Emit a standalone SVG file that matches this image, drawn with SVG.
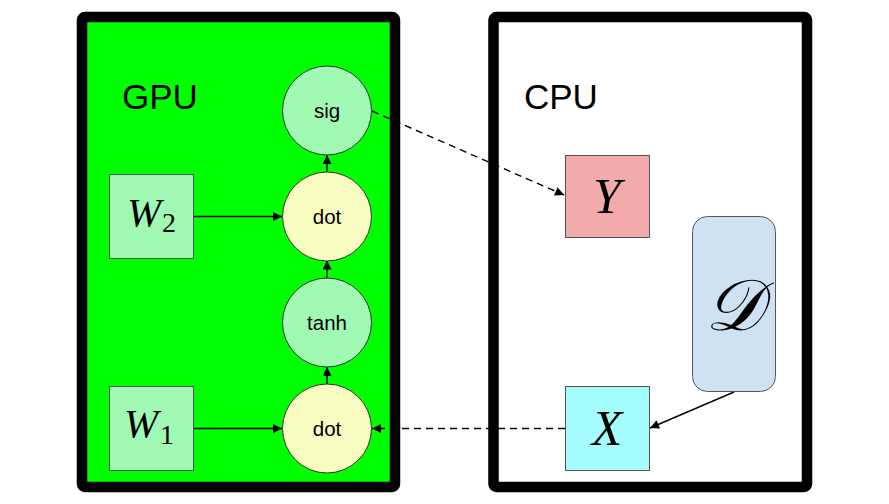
<svg xmlns="http://www.w3.org/2000/svg" width="889" height="504" viewBox="0 0 889 504">
<defs>
<style>
.frame{stroke:#000;stroke-width:10.5}
.box{stroke:#555;stroke-width:1}
.circ{stroke:#333;stroke-width:1}
.lbl{font-family:"Liberation Sans",Arial,sans-serif;font-size:20.5px;fill:#000;text-anchor:middle}
.title{font-family:"Liberation Sans",Arial,sans-serif;font-size:35px;fill:#000}
.math{font-family:"Liberation Serif","Times New Roman",serif;font-style:italic;fill:#000}
.sub{font-family:"Liberation Serif","Times New Roman",serif;font-style:normal;fill:#000}
.edge{stroke:#000;stroke-width:1.4;fill:none}
.dash{stroke-dasharray:7 5}
</style>
<marker id="ah" viewBox="0 0 10 10" refX="10" refY="5" markerWidth="10" markerHeight="9" markerUnits="userSpaceOnUse" orient="auto">
<path d="M0,0 L10,5 L0,10 z" fill="#000"/>
</marker>
</defs>
<rect width="889" height="504" fill="#fff"/>
<g id="gpu">
<rect class="frame" x="82" y="17" width="313" height="470" rx="3" fill="#00ff00"/>
<text class="title" x="122" y="109">GPU</text>
</g>
<g id="cpu">
<rect class="frame" x="493.5" y="17" width="313.5" height="470" rx="3" fill="#fff"/>
<text class="title" x="524" y="109">CPU</text>
</g>
<g id="connectors">
<line class="edge" x1="193" y1="216.5" x2="282" y2="216.5" marker-end="url(#ah)"/>
<line class="edge" x1="193" y1="428.5" x2="282" y2="428.5" marker-end="url(#ah)"/>
<line class="edge" x1="327" y1="172" x2="327" y2="155" marker-end="url(#ah)"/>
<line class="edge" x1="327" y1="278" x2="327" y2="260.5" marker-end="url(#ah)"/>
<line class="edge" x1="327" y1="384" x2="327" y2="367" marker-end="url(#ah)"/>
<line class="edge dash" x1="372" y1="111" x2="564" y2="195" marker-end="url(#ah)"/>
<line class="edge dash" x1="565" y1="428.5" x2="372" y2="428.5" marker-end="url(#ah)"/>
<line class="edge" x1="734" y1="392" x2="650" y2="428" marker-end="url(#ah)"/>
</g>
<g id="W2">
<rect class="box" x="109.5" y="174.5" width="84" height="84" fill="#a0fab4"/>
<text class="math" x="127" y="226" font-size="41">W</text><text class="sub" x="162" y="232" font-size="28">2</text>
</g>
<g id="W1">
<rect class="box" x="109.5" y="386.5" width="84" height="84" fill="#a0fab4"/>
<text class="math" x="124" y="437" font-size="41">W</text><text class="sub" x="160" y="444" font-size="28">1</text>
</g>
<g id="sig">
<circle class="circ" cx="327" cy="110.5" r="44.5" fill="#a0fab4"/>
<text class="lbl" x="327" y="118">sig</text>
</g>
<g id="dot2">
<circle class="circ" cx="327" cy="216.5" r="44.5" fill="#f8fcc0"/>
<text class="lbl" x="327" y="224">dot</text>
</g>
<g id="tanh">
<circle class="circ" cx="327" cy="322.5" r="44.5" fill="#a0fab4"/>
<text class="lbl" x="327" y="330">tanh</text>
</g>
<g id="dot1">
<circle class="circ" cx="327" cy="428.5" r="44.5" fill="#f8fcc0"/>
<text class="lbl" x="327" y="436">dot</text>
</g>
<g id="Y">
<rect class="box" x="565.5" y="155.5" width="84" height="82" fill="#f2aaaa"/>
<text class="math" x="607" y="213" font-size="50" text-anchor="middle">Y</text>
</g>
<g id="D">
<rect class="box" x="692.5" y="216.5" width="83" height="175" rx="15" fill="#cfe2f3"/>
<text class="math" x="733" y="330" font-size="72" text-anchor="middle">𝒟</text>
</g>
<g id="X">
<rect class="box" x="565.5" y="386.5" width="84" height="84" fill="#a5fcfc"/>
<text class="math" x="607" y="445" font-size="50" text-anchor="middle">X</text>
</g>
</svg>
